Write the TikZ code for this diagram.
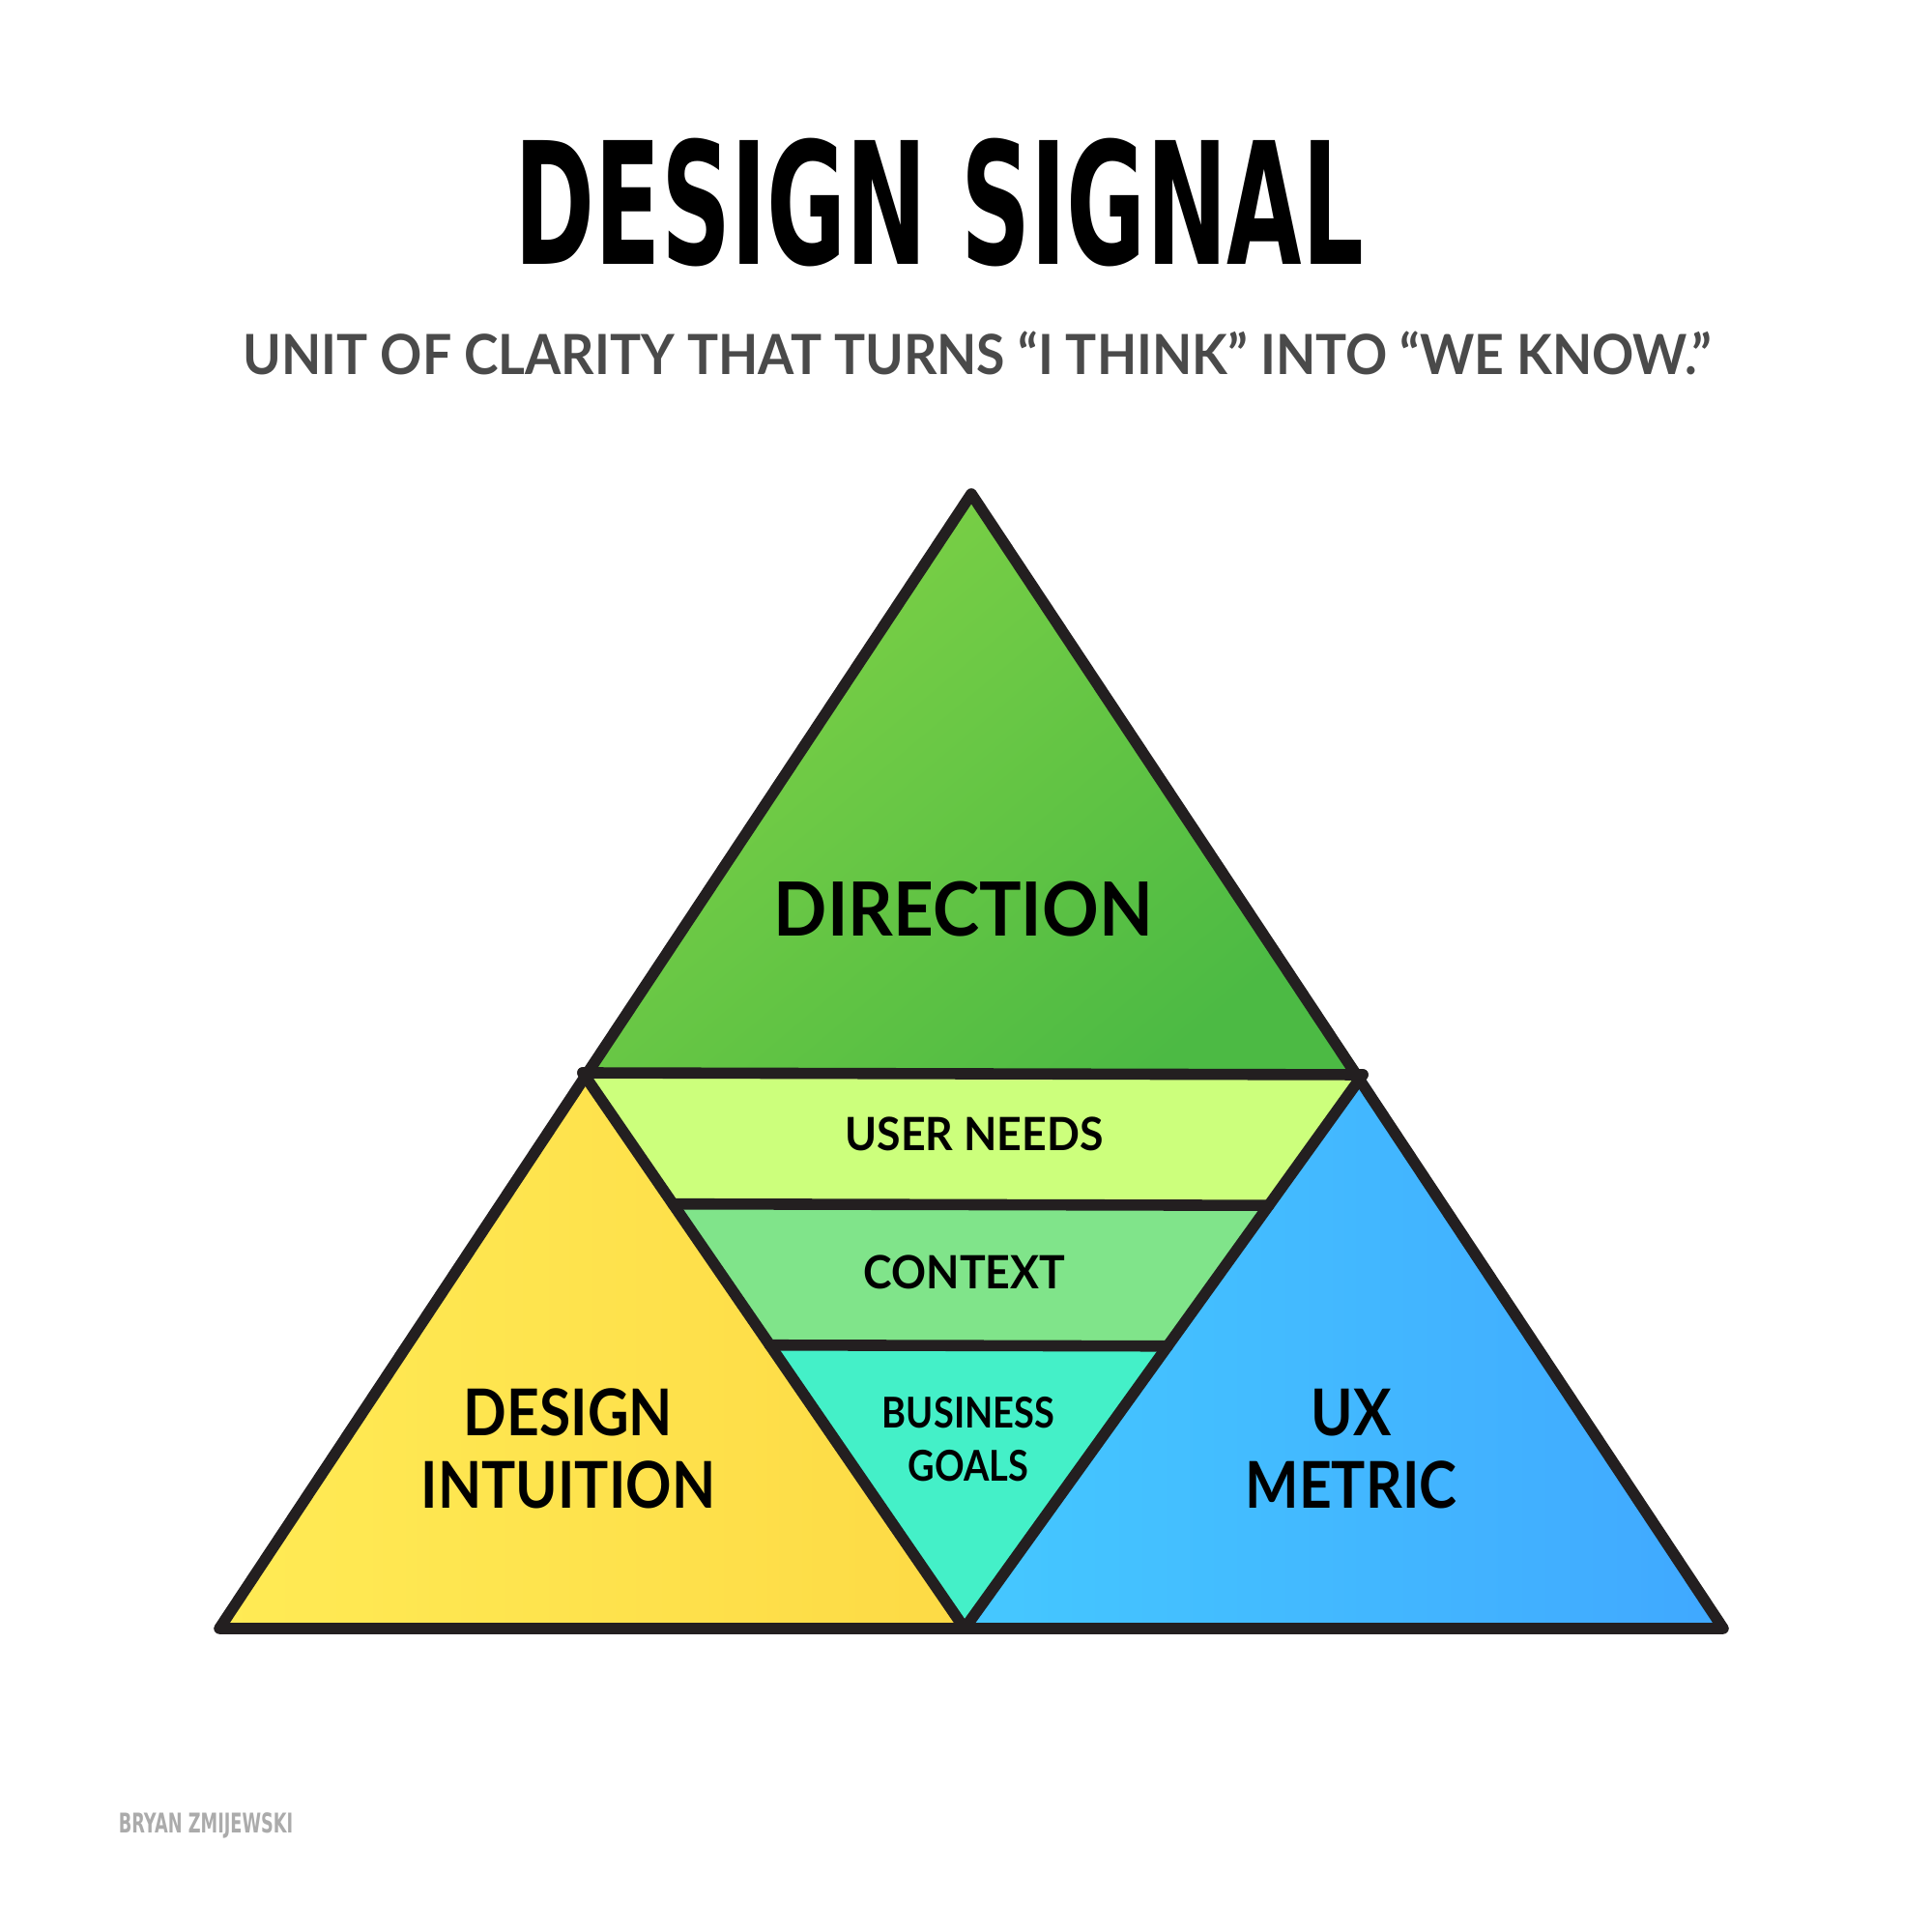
\documentclass[tikz,border=0pt]{standalone}
\usepackage{fontspec}
\usepackage{graphicx}
\setmainfont{Lato}
\newfontfamily\handfont{DejaVu Sans}
\usetikzlibrary{calc}

\definecolor{inkline}{HTML}{231F20}
\definecolor{subgray}{HTML}{4A4A4A}
\definecolor{signgray}{HTML}{ABABAB}
\definecolor{dirlight}{HTML}{80D245}
\definecolor{dirdark}{HTML}{4CBA44}
\definecolor{needsfill}{HTML}{CCFF7C}
\definecolor{contextfill}{HTML}{80E48A}
\definecolor{goalsfill}{HTML}{44F0C8}
\definecolor{yellowlight}{HTML}{FFEB55}
\definecolor{yellowdark}{HTML}{FDDA45}
\definecolor{bluelight}{HTML}{45C8FF}
\definecolor{bluedark}{HTML}{40A8FF}

\begin{document}
\begin{tikzpicture}[line cap=round, line join=round, x=1cm, y=1cm,
        edge/.style={draw=inkline, line width=3.3pt},
        bigword/.style={font=\fontsize{22}{21.5}\selectfont\bfseries, align=center, xscale=0.94, transform shape},
        sideword/.style={font=\fontsize{19}{21.4}\selectfont\bfseries, align=center, xscale=0.88, transform shape},
        smallword/.style={font=\fontsize{13.5}{15.6}\selectfont\bfseries, align=center, xscale=0.94, transform shape}]

    \fill[white] (0,0) rectangle (19.99,19.99);
    \useasboundingbox (0,0) rectangle (19.99,19.99);

    \coordinate (apex) at (10.05,14.88);
    \coordinate (midL) at (6.03,8.89);
    \coordinate (midR) at (14.10,8.87);
    \coordinate (botL) at (2.27,3.14);
    \coordinate (botM) at (9.98,3.14);
    \coordinate (botR) at (17.83,3.14);

    \coordinate (needsL) at ($(midL)!0.236!(botM)$);
    \coordinate (needsR) at ($(midR)!0.236!(botM)$);
    \coordinate (goalsL) at ($(midL)!0.49!(botM)$);
    \coordinate (goalsR) at ($(midR)!0.49!(botM)$);

    % fills
    \shade[top color=dirlight, bottom color=dirdark, shading angle=40] (apex) -- (midL) -- (midR) -- cycle;
    \shade[left color=yellowlight, right color=yellowdark] (midL) -- (botL) -- (botM) -- cycle;
    \shade[left color=bluelight, right color=bluedark] (midR) -- (botM) -- (botR) -- cycle;
    \fill[needsfill] (midL) -- (midR) -- (needsR) -- (needsL) -- cycle;
    \fill[contextfill] (needsL) -- (needsR) -- (goalsR) -- (goalsL) -- cycle;
    \fill[goalsfill] (goalsL) -- (goalsR) -- (botM) -- cycle;

    % outlines
    \draw[edge] (apex) -- (botL) -- (botR) -- cycle;
    \draw[edge] (midL) -- (midR);
    \draw[edge] (midL) -- (botM) -- (midR);
    \draw[edge] (needsL) -- (needsR);
    \draw[edge] (goalsL) -- (goalsR);

    % labels
    \node[bigword] (direction) at (9.97,10.58) {DIRECTION};
    \node[smallword] (needs) at (10.08,8.26) {USER NEEDS};
    \node[smallword] (context) at (9.98,6.83) {CONTEXT};
    \node[smallword, font=\fontsize{12.5}{15.6}\selectfont\bfseries, xscale=0.92] (goals) at (10.02,5.10) {BUSINESS\\GOALS};
    \node[sideword] (intuition) at (5.88,5.00) {DESIGN\\INTUITION};
    \node[sideword] (metric) at (13.98,5.00) {UX\\METRIC};

    % heading
    \node (title) at (9.72,17.89) {\handfont\bfseries\fontsize{50}{50}\selectfont\scalebox{0.57}[1]{DESIGN SIGNAL}};
    \node[text=subgray] (subtitle) at (10.11,16.34) {\bfseries\fontsize{16.3}{18}\selectfont\scalebox{0.935}[1]{UNIT OF CLARITY THAT TURNS “I THINK” INTO “WE KNOW.”}};
    \node[text=signgray] (signature) at (2.13,1.10) {\handfont\bfseries\fontsize{8}{8}\selectfont\scalebox{0.63}[1]{BRYAN ZMIJEWSKI}};

\end{tikzpicture}
\end{document}
